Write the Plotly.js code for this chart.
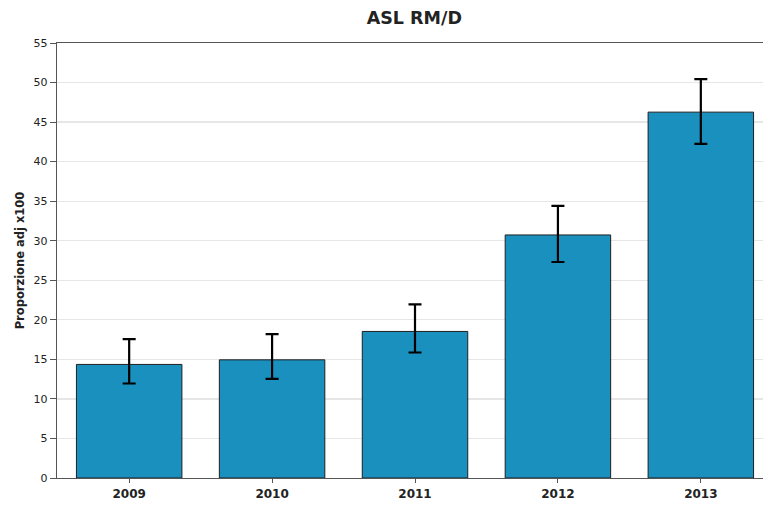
<!DOCTYPE html>
<html>
<head>
<meta charset="utf-8">
<script src="https://cdn.plot.ly/plotly-3.0.1.min.js"></script>
<style>html,body{margin:0;padding:0;background:#fff;}#chart{width:763px;height:505px;}</style>
</head>
<body>
<div id="chart"></div>
<script>
const years = ["2009", "2010", "2011", "2012", "2013"];
const values = [14.36, 14.94, 18.53, 30.73, 46.26];
const upper = [17.56, 18.19, 21.95, 34.40, 50.44];
const lower = [11.95, 12.54, 15.87, 27.31, 42.25];
const yTicks = [0, 5, 10, 15, 20, 25, 30, 35, 40, 45, 50, 55];

const errPlus = values.map((v, i) => upper[i] - v);
const errMinus = values.map((v, i) => v - lower[i]);

const trace = {
  type: "bar",
  x: years,
  y: values,
  width: 0.738,
  marker: {color: "#1a90bf", line: {color: "#1f1f1f", width: 1}},
  error_y: {type: "data", symmetric: false, array: errPlus, arrayminus: errMinus,
            color: "#000", thickness: 2.2, width: 6.5},
  hoverinfo: "none"
};

const layout = {
  width: 763, height: 505,
  margin: {l: 57, r: 0, t: 43, b: 27},
  paper_bgcolor: "#fff", plot_bgcolor: "#fff",
  font: {family: "DejaVu Sans, sans-serif", color: "#222"},
  title: {text: "<b>ASL RM/D</b>", font: {size: 17.5, color: "#222"}, x: 0.543, xanchor: "center", y: 0.965, yanchor: "middle"},
  showlegend: false,
  xaxis: {
    type: "category", range: [-0.505, 4.435],
    showline: true, linecolor: "#555", linewidth: 1.3, mirror: true,
    ticks: "outside", ticklen: 4, tickcolor: "#555",
    showgrid: false, zeroline: false,
    tickfont: {size: 12, color: "#222", weight: "bold"}
  },
  yaxis: {
    range: [0, 55], tickvals: yTicks, ticktext: yTicks.map(String),
    showline: true, linecolor: "#555", linewidth: 1.3,
    ticks: "outside", ticklen: 6, tickcolor: "#555",
    showgrid: true, gridcolor: "#e6e6e6", gridwidth: 1.2, zeroline: false,
    tickfont: {size: 11, color: "#222"},
    title: {text: "<b>Proporzione adj x100</b>", font: {size: 11.5, color: "#222"}, standoff: 6}
  }
};

Plotly.newPlot("chart", [trace], layout, {staticPlot: true});
</script>
</body>
</html>
